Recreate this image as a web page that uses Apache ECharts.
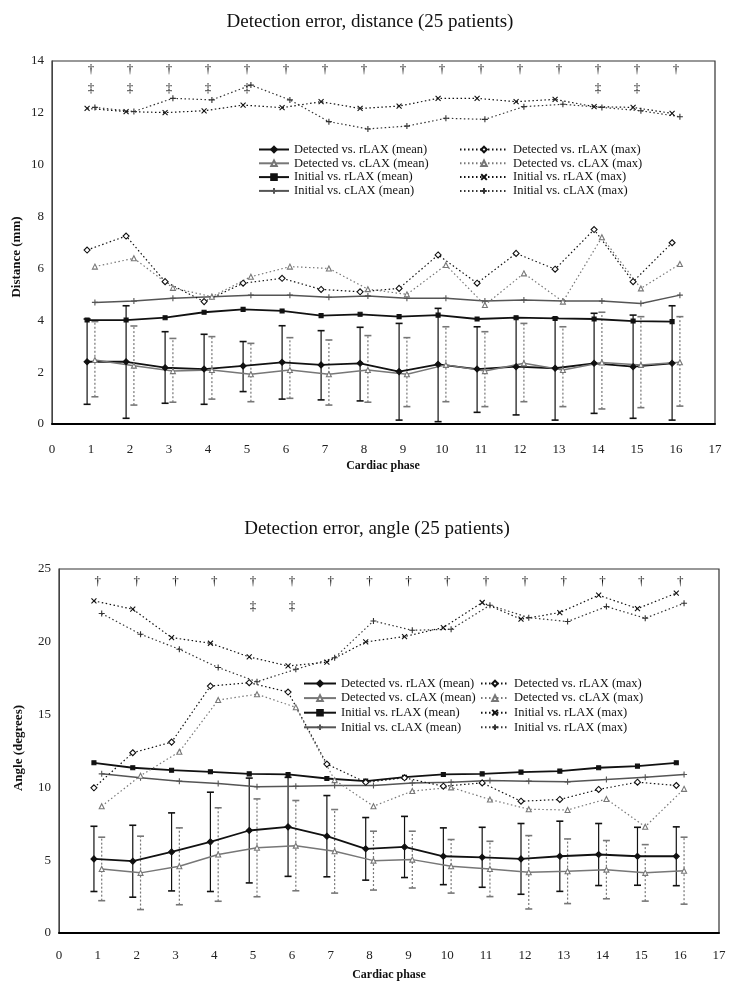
<!DOCTYPE html>
<html><head><meta charset="utf-8">
<script src="https://cdn.jsdelivr.net/npm/echarts/dist/echarts.min.js"></script>
<style>html,body{margin:0;padding:0;background:#fff}#c{width:729px;height:991px}</style>
</head><body><div id="c"></div>
<script>
// ---------- data ----------
const phases = [1,2,3,4,5,6,7,8,9,10,11,12,13,14,15,16];
const names = ['Detected vs. rLAX (mean)','Detected vs. cLAX (mean)','Initial vs. rLAX (mean)','Initial vs. cLAX (mean)',
               'Detected vs. rLAX (max)','Detected vs. cLAX (max)','Initial vs. rLAX (max)','Initial vs. cLAX (max)'];
const angleLegendLabels = ['Detected vs. rLAX (max)','Detected vs. cLAX (max)','Initial vs. rLAX (max)','Initial vs. rLAX (max)'];

// Distance chart (mm)
const distDetRMean = [2.40,2.40,2.17,2.12,2.24,2.38,2.28,2.34,2.02,2.30,2.12,2.21,2.15,2.34,2.21,2.34];
const distDetRLow  = [0.76,0.22,0.80,0.76,1.25,0.96,0.93,0.89,0.15,0.09,0.45,0.35,0.15,0.41,0.22,0.15];
const distDetRHigh = [4.05,4.56,3.56,3.46,3.18,3.79,3.60,3.73,3.88,4.46,3.75,4.10,4.10,4.27,4.20,4.56];
const distDetCMean = [2.47,2.25,2.04,2.08,1.92,2.08,1.92,2.08,1.92,2.28,2.04,2.34,2.08,2.37,2.28,2.38];
const distDetCLow  = [1.05,0.73,0.84,0.96,0.86,0.99,0.73,0.84,0.67,0.86,0.67,0.86,0.67,0.58,0.63,0.69];
const distDetCHigh = [3.95,3.78,3.30,3.37,3.11,3.33,3.24,3.41,3.33,3.75,3.56,3.88,3.75,4.31,4.14,4.14];
const distIniRMean = [4.01,4.01,4.10,4.31,4.42,4.36,4.18,4.23,4.14,4.20,4.05,4.10,4.07,4.05,3.97,3.95];
const distIniCMean = [4.69,4.74,4.85,4.91,4.97,4.97,4.89,4.94,4.85,4.85,4.74,4.78,4.74,4.74,4.65,4.97];
const distDetRMax  = [6.71,7.25,5.49,4.72,5.43,5.62,5.19,5.10,5.23,6.52,5.43,6.58,5.97,7.50,5.49,6.99];
const distDetCMax  = [6.07,6.39,5.25,4.91,5.68,6.07,6.00,5.20,5.00,6.13,4.59,5.81,4.72,7.20,5.23,6.17];
const distIniRMax  = [12.17,12.05,12.01,12.08,12.30,12.20,12.43,12.17,12.26,12.56,12.56,12.43,12.52,12.24,12.21,11.98];
const distIniCMax  = [12.21,12.05,12.56,12.50,13.07,12.50,11.66,11.38,11.49,11.79,11.75,12.24,12.33,12.21,12.08,11.85];
const distDaggerPhases  = [1,2,3,4,5,6,7,8,9,10,11,12,13,14,15,16];
const distDDaggerPhases = [1,2,3,4,5,14,15];
const distTicks = [0,2,4,6,8,10,12,14];

// Angle chart (degrees)
const angDetRMean = [5.09,4.93,5.57,6.26,7.04,7.29,6.65,5.78,5.91,5.27,5.20,5.09,5.27,5.39,5.27,5.27];
const angDetRLow  = [2.85,2.46,2.89,2.85,3.44,3.89,3.86,3.63,3.81,3.32,3.14,2.66,2.86,3.26,3.28,3.25];
const angDetRHigh = [7.33,7.40,8.25,9.67,10.64,10.69,9.44,7.93,8.01,7.22,7.26,7.52,7.68,7.52,7.26,7.29];
const angDetCMean = [4.40,4.13,4.58,5.39,5.85,6.00,5.61,4.97,5.04,4.58,4.40,4.17,4.24,4.35,4.13,4.28];
const angDetCLow  = [2.22,1.61,1.94,2.18,2.49,2.90,2.74,2.95,3.09,2.74,2.50,1.65,2.02,2.35,2.19,1.98];
const angDetCHigh = [6.58,6.65,7.22,8.60,9.21,9.10,8.48,6.99,6.99,6.42,6.30,6.69,6.46,6.35,6.07,6.58];
const angIniRMean = [11.69,11.35,11.18,11.07,10.93,10.89,10.61,10.43,10.70,10.89,10.93,11.05,11.12,11.35,11.46,11.69];
const angIniCMean = [10.93,10.66,10.43,10.27,10.04,10.08,10.13,10.13,10.30,10.36,10.47,10.43,10.38,10.54,10.70,10.89];
const angDetRMax  = [9.97,12.38,13.11,16.96,17.19,16.55,11.60,10.35,10.66,10.08,10.31,9.05,9.17,9.86,10.36,10.13];
const angDetCMax  = [8.71,10.80,12.45,16.00,16.40,15.50,10.50,8.71,9.75,10.00,9.17,8.50,8.45,9.20,7.30,9.90];
const angIniRMax  = [22.81,22.24,20.29,19.90,18.96,18.34,18.60,19.99,20.36,20.98,22.70,21.55,22.01,23.20,22.28,23.34];
const angIniCMax  = [21.94,20.52,19.49,18.23,17.26,18.11,18.90,21.43,20.79,20.86,22.51,21.66,21.39,22.42,21.62,22.65];
const angDaggerPhases  = [1,2,3,4,5,6,7,8,9,10,11,12,13,14,15,16];
const angDDaggerPhases = [5,6];
const angTicks = [0,5,10,15,20,25];

// ---------- styling ----------
const SERIF = '"Liberation Serif", "DejaVu Serif", serif';
const BLACK = '#111', GRAY = '#777';
const OFF_R = -0.1, OFF_C = 0.1;   // horizontal offset of rLAX / cLAX series
const PLUS = 'path://M5,0L5,10M0,5L10,5';
const CROSS = 'path://M0,0L10,10M10,0L0,10';
const DOT = [1.5, 2.5];

const styles = [
  {color:BLACK, width:1.8, type:'solid', symbol:'diamond', size:6, fill:BLACK, off:OFF_R},
  {color:GRAY,  width:1.5, type:'solid', symbol:'triangle', size:5, fill:'#fff', off:OFF_C},
  {color:BLACK, width:1.8, type:'solid', symbol:'rect', size:4, fill:BLACK, off:OFF_R},
  {color:'#555',width:1.5, type:'solid', symbol:PLUS, size:6, fill:'none', off:OFF_C},
  {color:BLACK, width:1.2, type:DOT, symbol:'diamond', size:6, fill:'#fff', off:OFF_R},
  {color:GRAY,  width:1.2, type:DOT, symbol:'triangle', size:5, fill:'#fff', off:OFF_C},
  {color:BLACK, width:1.2, type:DOT, symbol:CROSS, size:5, fill:'none', off:OFF_R},
  {color:'#333',width:1.2, type:DOT, symbol:PLUS, size:6, fill:'none', off:OFF_C}
];

function lineSeries(idx, values, gi){
  const s = styles[idx];
  return {
    type:'line', name:names[idx], xAxisIndex:gi, yAxisIndex:gi,
    data: phases.map((p,i)=>[p + s.off, values[i]]),
    symbol:s.symbol, symbolSize:s.size, showSymbol:true,
    lineStyle:{color:s.color, width:s.width, type:s.type},
    itemStyle:{color:s.fill === 'none' ? 'rgba(0,0,0,0)' : s.fill, borderColor:s.color, borderWidth:1.1},
    emphasis:{disabled:true}, animation:false, z:3
  };
}

function errSeries(lo, hi, off, color, dash, gi){
  return {
    type:'custom', xAxisIndex:gi, yAxisIndex:gi, animation:false, z:2, silent:true,
    data: phases.map((p,i)=>[p + off, lo[i], hi[i]]),
    encode:{x:0, y:[1,2]},
    renderItem:function(params, api){
      const x = api.value(0);
      const a = api.coord([x, api.value(1)]), b = api.coord([x, api.value(2)]);
      const w = 3.5;
      return {type:'group', children:[
        {type:'line', shape:{x1:a[0],y1:a[1],x2:b[0],y2:b[1]}, style:{stroke:color, lineWidth:1.2, lineDash:dash}},
        {type:'line', shape:{x1:a[0]-w,y1:a[1],x2:a[0]+w,y2:a[1]}, style:{stroke:color, lineWidth:1.6}},
        {type:'line', shape:{x1:b[0]-w,y1:b[1],x2:b[0]+w,y2:b[1]}, style:{stroke:color, lineWidth:1.6}}
      ]};
    }
  };
}

function markSeries(ph, level, ch, gi){
  return {
    type:'custom', xAxisIndex:gi, yAxisIndex:gi, animation:false, z:4, silent:true,
    data: ph.map(p=>[p, level]),
    renderItem:function(params, api){
      const c = api.coord([api.value(0), api.value(1)]);
      return {type:'text', x:c[0], y:c[1], style:{text:ch, fill:'#111', font:'13px ' + SERIF, align:'center', verticalAlign:'middle'}};
    }
  };
}

const grids = [
  {left:52, top:61, width:663, height:363},
  {left:59, top:569, width:660, height:364}
];

function xAxisCfg(gi, margin){
  return {type:'value', gridIndex:gi, min:0, max:17, interval:1,
    axisLine:{show:true, onZero:false, lineStyle:{color:'#000', width:2}},
    axisTick:{show:false}, splitLine:{show:false},
    axisLabel:{fontFamily:SERIF, fontSize:13, color:'#222', margin:margin}};
}
function yAxisCfg(gi, ticks){
  return {type:'value', gridIndex:gi, min:ticks[0], max:ticks[ticks.length-1], interval:ticks[1]-ticks[0],
    axisLine:{show:true, lineStyle:{color:'#444', width:1}},
    axisTick:{show:false}, splitLine:{show:false},
    axisLabel:{fontFamily:SERIF, fontSize:13, color:'#222', margin:8}};
}

function legendCfg(data, left, top, itemWidth, gap, formatter){
  const cfg = {data:data, orient:'vertical', left:left, top:top, itemWidth:itemWidth, itemHeight:7,
    itemGap:gap, padding:0, selectedMode:false,
    textStyle:{fontFamily:SERIF, fontSize:12.5, color:'#111'}};
  if (formatter) cfg.formatter = formatter;
  return cfg;
}

const series = [];
function addChart(gi, d){
  series.push(errSeries(d.rLow, d.rHigh, OFF_R, BLACK, null, gi));
  series.push(errSeries(d.cLow, d.cHigh, OFF_C, GRAY, [2,2], gi));
  [d.rMean, d.cMean, d.iRMean, d.iCMean, d.rMax, d.cMax, d.iRMax, d.iCMax].forEach((v,k)=>series.push(lineSeries(k, v, gi)));
  series.push(markSeries(d.dag, d.dagLevel, '\u2020', gi));
  series.push(markSeries(d.ddag, d.ddagLevel, '\u2021', gi));
}
addChart(0, {rLow:distDetRLow, rHigh:distDetRHigh, cLow:distDetCLow, cHigh:distDetCHigh,
  rMean:distDetRMean, cMean:distDetCMean, iRMean:distIniRMean, iCMean:distIniCMean,
  rMax:distDetRMax, cMax:distDetCMax, iRMax:distIniRMax, iCMax:distIniCMax,
  dag:distDaggerPhases, dagLevel:13.65, ddag:distDDaggerPhases, ddagLevel:12.95});
addChart(1, {rLow:angDetRLow, rHigh:angDetRHigh, cLow:angDetCLow, cHigh:angDetCHigh,
  rMean:angDetRMean, cMean:angDetCMean, iRMean:angIniRMean, iCMean:angIniCMean,
  rMax:angDetRMax, cMax:angDetCMax, iRMax:angIniRMax, iCMax:angIniCMax,
  dag:angDaggerPhases, dagLevel:24.15, ddag:angDDaggerPhases, ddagLevel:22.4});

const chart = echarts.init(document.getElementById('c'), null, {renderer:'canvas'});
chart.setOption({
  backgroundColor:'#fff',
  animation:false,
  title:[
    {text:'Detection error, distance (25 patients)', left:365, top:8, textAlign:'center',
     textStyle:{fontFamily:SERIF, fontSize:19, fontWeight:'normal', color:'#111'}},
    {text:'Detection error, angle (25 patients)', left:372, top:515, textAlign:'center',
     textStyle:{fontFamily:SERIF, fontSize:19, fontWeight:'normal', color:'#111'}}
  ],
  grid:grids.map(g=>Object.assign({show:true, borderColor:'#333', borderWidth:1.2, backgroundColor:'transparent'}, g)),
  xAxis:[xAxisCfg(0, 19), xAxisCfg(1, 16)],
  yAxis:[yAxisCfg(0, distTicks), yAxisCfg(1, angTicks)],
  legend:[
    legendCfg(names.slice(0,4), 258, 143, 30, 0.8),
    legendCfg(names.slice(4,8), 459, 143, 48, 0.8),
    legendCfg(names.slice(0,4), 303, 677, 32, 1.6),
    legendCfg(names.slice(4,8), 480, 677, 28, 1.6, function(n){ return angleLegendLabels[names.indexOf(n) - 4]; })
  ],
  graphic:[
    {type:'text', x:17, y:257, rotation:Math.PI/2, style:{text:'Distance (mm)', font:'bold 13px ' + SERIF, fill:'#111', align:'center', verticalAlign:'middle'}},
    {type:'text', x:19, y:748, rotation:Math.PI/2, style:{text:'Angle (degrees)', font:'bold 13px ' + SERIF, fill:'#111', align:'center', verticalAlign:'middle'}},
    {type:'text', x:383, y:466, style:{text:'Cardiac phase', font:'bold 12px ' + SERIF, fill:'#111', align:'center', verticalAlign:'middle'}},
    {type:'text', x:389, y:975, style:{text:'Cardiac phase', font:'bold 12px ' + SERIF, fill:'#111', align:'center', verticalAlign:'middle'}}
  ],
  series:series
});
</script>
</body></html>
